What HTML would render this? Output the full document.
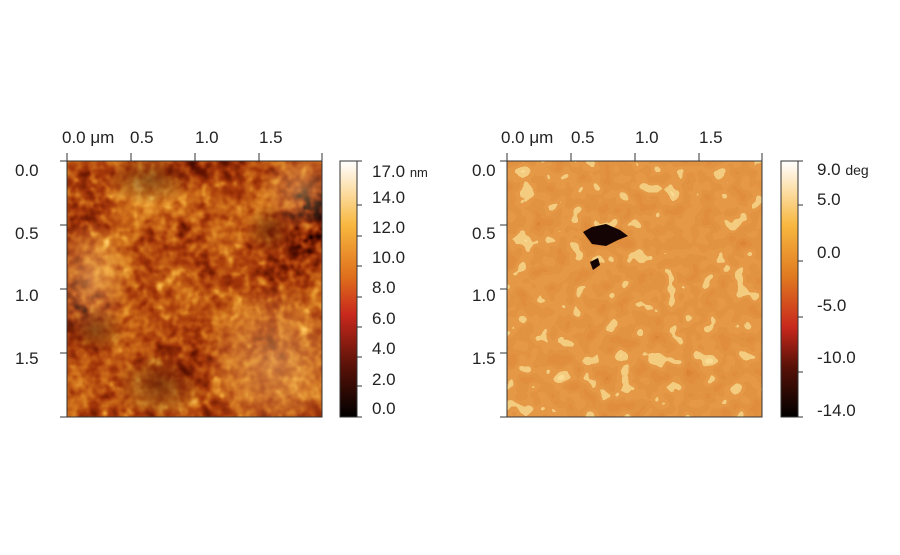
<!DOCTYPE html>
<html><head><meta charset="utf-8"><style>
body{margin:0;background:#fff;}
svg text{font-family:"Liberation Sans",sans-serif;fill:#222;}
</style></head><body>
<svg width="900" height="550" viewBox="0 0 900 550" xmlns="http://www.w3.org/2000/svg">
<defs>
<filter id="fL" x="0" y="0" width="100%" height="100%" color-interpolation-filters="sRGB">
<feTurbulence type="fractalNoise" baseFrequency="0.012" numOctaves="2" seed="3" result="a"/>
<feTurbulence type="fractalNoise" baseFrequency="0.09" numOctaves="2" seed="7" result="b"/>
<feComposite in="a" in2="b" operator="arithmetic" k2="1.3" k3="0.9" k4="-0.2" result="c"/>
<feColorMatrix in="c" type="matrix" values="1 0 0 0 0 1 0 0 0 0 1 0 0 0 0 0 0 0 0 1" result="d"/>
<feComponentTransfer in="d">
<feFuncR type="table" tableValues="0.1 0.4 0.65 0.8 0.92 1 1"/>
<feFuncG type="table" tableValues="0 0.08 0.22 0.42 0.62 0.8 0.95"/>
<feFuncB type="table" tableValues="0 0 0.04 0.1 0.2 0.4 0.7"/>
<feFuncA type="table" tableValues="1 1"/>
</feComponentTransfer>
</filter>
<filter id="fR" x="0" y="0" width="100%" height="100%" color-interpolation-filters="sRGB">
<feTurbulence type="fractalNoise" baseFrequency="0.06" numOctaves="2" seed="11" result="a"/>
<feColorMatrix in="a" type="matrix" values="1 0 0 0 0 1 0 0 0 0 1 0 0 0 0 0 0 0 0 1" result="d"/>
<feComponentTransfer in="d">
<feFuncR type="discrete" tableValues="0.86 0.88 0.89 0.9 0.96 0.98"/>
<feFuncG type="discrete" tableValues="0.52 0.56 0.58 0.6 0.8 0.86"/>
<feFuncB type="discrete" tableValues="0.2 0.24 0.26 0.28 0.5 0.58"/>
<feFuncA type="table" tableValues="1 1"/>
</feComponentTransfer>
</filter>
<radialGradient id="lt"><stop offset="0" stop-color="#ffd080" stop-opacity="0.45"/><stop offset="1" stop-color="#ffd080" stop-opacity="0"/></radialGradient>
<radialGradient id="dk"><stop offset="0" stop-color="#3a0800" stop-opacity="0.5"/><stop offset="1" stop-color="#3a0800" stop-opacity="0"/></radialGradient>
<clipPath id="cl"><rect x="67" y="161" width="255" height="256"/></clipPath>
<linearGradient id="cbL" x1="0" y1="1" x2="0" y2="0">
<stop offset="0" stop-color="#000"/><stop offset="0.2" stop-color="#5a1208"/>
<stop offset="0.4" stop-color="#c8281c"/><stop offset="0.55" stop-color="#e0701c"/>
<stop offset="0.75" stop-color="#f8b840"/><stop offset="1" stop-color="#fff"/>
</linearGradient>
<linearGradient id="cbR" x1="0" y1="1" x2="0" y2="0">
<stop offset="0" stop-color="#000"/><stop offset="0.2" stop-color="#5a1208"/>
<stop offset="0.35" stop-color="#c8281c"/><stop offset="0.55" stop-color="#e07a20"/>
<stop offset="0.75" stop-color="#f8b840"/><stop offset="1" stop-color="#fff"/>
</linearGradient>
</defs>

<rect x="67" y="161" width="255" height="256" filter="url(#fL)"/>
<g clip-path="url(#cl)">
<ellipse cx="275" cy="360" rx="70" ry="75" fill="url(#lt)"/>
<ellipse cx="90" cy="280" rx="40" ry="60" fill="url(#lt)"/>
<ellipse cx="300" cy="190" rx="40" ry="40" fill="url(#lt)"/>
<ellipse cx="150" cy="180" rx="45" ry="25" fill="url(#dk)"/>
<ellipse cx="160" cy="385" rx="45" ry="35" fill="url(#dk)"/>
<ellipse cx="95" cy="330" rx="30" ry="25" fill="url(#dk)"/>
<ellipse cx="270" cy="230" rx="25" ry="25" fill="url(#dk)"/>
</g>
<rect x="67" y="161" width="255" height="256" fill="none" stroke="#333" stroke-width="1"/>
<g stroke="#333" stroke-width="1">
<line x1="67" y1="153" x2="67" y2="161"/><line x1="131" y1="153" x2="131" y2="161"/>
<line x1="195" y1="153" x2="195" y2="161"/><line x1="259" y1="153" x2="259" y2="161"/><line x1="322" y1="153" x2="322" y2="161"/>
<line x1="60" y1="161" x2="67" y2="161"/><line x1="60" y1="225" x2="67" y2="225"/>
<line x1="60" y1="289" x2="67" y2="289"/><line x1="60" y1="353" x2="67" y2="353"/><line x1="60" y1="417" x2="67" y2="417"/>
</g>
<g font-size="17">
<text x="62" y="143">0.0 μm</text><text x="130" y="143">0.5</text><text x="195" y="143">1.0</text><text x="259" y="143">1.5</text>
<text x="15" y="176">0.0</text><text x="15" y="239">0.5</text><text x="15" y="301">1.0</text><text x="15" y="364">1.5</text>
</g>
<rect x="340" y="161" width="17" height="256" fill="url(#cbL)" stroke="#333"/>
<g stroke="#333"><line x1="357" y1="205" x2="362" y2="205"/><line x1="357" y1="236" x2="362" y2="236"/><line x1="357" y1="266" x2="362" y2="266"/><line x1="357" y1="297" x2="362" y2="297"/><line x1="357" y1="327" x2="362" y2="327"/><line x1="357" y1="357" x2="362" y2="357"/><line x1="357" y1="386" x2="362" y2="386"/><line x1="357" y1="161" x2="362" y2="161"/><line x1="357" y1="417" x2="362" y2="417"/></g>
<g font-size="17">
<text x="372" y="177">17.0 <tspan font-size="13">nm</tspan></text><text x="372" y="203">14.0</text><text x="372" y="233">12.0</text>
<text x="372" y="263">10.0</text><text x="372" y="293">8.0</text><text x="372" y="324">6.0</text><text x="372" y="354">4.0</text>
<text x="372" y="385">2.0</text><text x="372" y="414">0.0</text>
</g>

<rect x="507" y="161" width="255" height="256" filter="url(#fR)"/>
<path d="M583 232 L592 227 L606 224 L620 230 L628 236 L618 240 L606 246 L592 244 Z" fill="#140404"/>
<path d="M590 262 L598 258 L600 265 L593 270 Z" fill="#140404"/>
<rect x="507" y="161" width="255" height="256" fill="none" stroke="#333"/>
<g stroke="#333" stroke-width="1">
<line x1="507" y1="153" x2="507" y2="161"/><line x1="571" y1="153" x2="571" y2="161"/>
<line x1="635" y1="153" x2="635" y2="161"/><line x1="699" y1="153" x2="699" y2="161"/><line x1="762" y1="153" x2="762" y2="161"/>
<line x1="500" y1="161" x2="507" y2="161"/><line x1="500" y1="225" x2="507" y2="225"/>
<line x1="500" y1="289" x2="507" y2="289"/><line x1="500" y1="353" x2="507" y2="353"/><line x1="500" y1="417" x2="507" y2="417"/>
</g>
<g font-size="17">
<text x="501" y="143">0.0 μm</text><text x="571" y="143">0.5</text><text x="635" y="143">1.0</text><text x="699" y="143">1.5</text>
<text x="472" y="176">0.0</text><text x="472" y="239">0.5</text><text x="472" y="301">1.0</text><text x="472" y="364">1.5</text>
</g>
<rect x="781" y="161" width="17" height="256" fill="url(#cbR)" stroke="#333"/>
<g stroke="#333"><line x1="798" y1="205" x2="803" y2="205"/><line x1="798" y1="261" x2="803" y2="261"/><line x1="798" y1="317" x2="803" y2="317"/><line x1="798" y1="372" x2="803" y2="372"/><line x1="798" y1="161" x2="803" y2="161"/><line x1="798" y1="417" x2="803" y2="417"/></g>
<g font-size="17">
<text x="817" y="175">9.0 <tspan font-size="14">deg</tspan></text><text x="817" y="205">5.0</text><text x="817" y="258">0.0</text>
<text x="817" y="311">-5.0</text><text x="817" y="363">-10.0</text><text x="817" y="416">-14.0</text>
</g>
</svg>
</body></html>
